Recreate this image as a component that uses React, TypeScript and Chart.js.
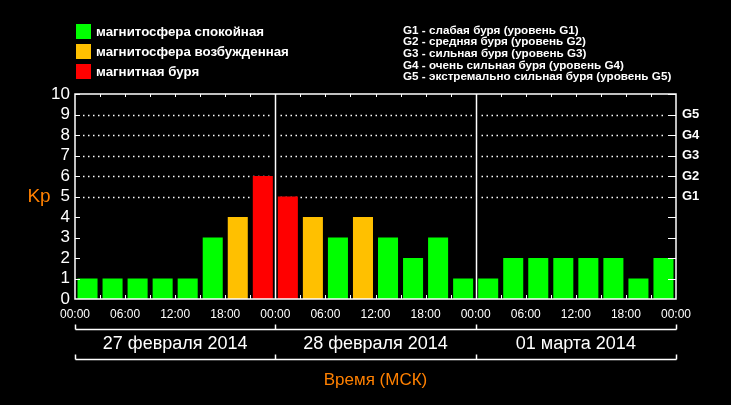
import React, { useEffect, useRef } from "react";
import { Chart, registerables } from "chart.js";

Chart.register(...registerables);

// ---- data ----
const intervals = [
  "27.02 00-03", "27.02 03-06", "27.02 06-09", "27.02 09-12", "27.02 12-15", "27.02 15-18", "27.02 18-21", "27.02 21-24",
  "28.02 00-03", "28.02 03-06", "28.02 06-09", "28.02 09-12", "28.02 12-15", "28.02 15-18", "28.02 18-21", "28.02 21-24",
  "01.03 00-03", "01.03 03-06", "01.03 06-09", "01.03 09-12", "01.03 12-15", "01.03 15-18", "01.03 18-21", "01.03 21-24",
];
const kpValues = [1, 1, 1, 1, 1, 3, 4, 6, 5, 4, 3, 4, 3, 2, 3, 1, 1, 2, 2, 2, 2, 2, 1, 2];
const timeTickLabels = [
  "00:00", "06:00", "12:00", "18:00", "00:00", "06:00", "12:00", "18:00",
  "00:00", "06:00", "12:00", "18:00", "00:00",
];
const dayLabels = ["27 февраля 2014", "28 февраля 2014", "01 марта 2014"];
const stormLevelLabels = ["G1", "G2", "G3", "G4", "G5"];
const legendLabels = ["магнитосфера спокойная", "магнитосфера возбужденная", "магнитная буря"];
const stormLegendLines = [
  "G1 - слабая буря (уровень G1)",
  "G2 - средняя буря (уровень G2)",
  "G3 - сильная буря (уровень G3)",
  "G4 - очень сильная буря (уровень G4)",
  "G5 - экстремально сильная буря (уровень G5)",
];
const yAxisTitle = "Kp";
const xAxisTitle = "Время (МСК)";

// ---- styles ----
const GREEN = "#00ff00";
const ORANGE = "#ffc000";
const RED = "#ff0000";
const TITLE_ORANGE = "#ff8000";
const WHITE = "#ffffff";
const legendColors = [GREEN, ORANGE, RED];

const barColor = (v: number) => (v >= 5 ? RED : v >= 4 ? ORANGE : GREEN);

const decorPlugin = {
  id: "decor",
  beforeDatasetsDraw(chart: any) {
    const { ctx, chartArea } = chart;
    const { left, right, top, bottom } = chartArea;
    const y = chart.scales.y;
    const xt = chart.scales.xt;
    const dayX = [8, 16].map((v) => Math.round(xt.getPixelForValue(v)) + 0.5);
    ctx.save();
    ctx.strokeStyle = WHITE;
    ctx.lineWidth = 1.5;
    ctx.setLineDash([1.5, 3.5]);
    for (let lv = 5; lv <= 9; lv++) {
      const py = Math.round(y.getPixelForValue(lv)) + 0.5;
      const segs = [
        [left + 8, dayX[0] - 4],
        [dayX[0] + 5, dayX[1] - 4],
        [dayX[1] + 5, right - 10],
      ];
      for (const [a, b] of segs) {
        ctx.beginPath();
        ctx.moveTo(a, py);
        ctx.lineTo(b, py);
        ctx.stroke();
      }
    }
    ctx.setLineDash([]);
    ctx.lineWidth = 1.5;
    for (const dx of dayX) {
      ctx.beginPath();
      ctx.moveTo(dx, top);
      ctx.lineTo(dx, bottom);
      ctx.stroke();
    }
    ctx.restore();
  },
  afterDraw(chart: any) {
    const { ctx, chartArea } = chart;
    const { left, right, top, bottom } = chartArea;
    const y = chart.scales.y;
    const xt = chart.scales.xt;
    const xc = chart.scales.x;
    ctx.save();
    ctx.strokeStyle = WHITE;
    ctx.lineWidth = 1.5;
    // frame
    ctx.strokeRect(left, top, right - left, bottom - top);
    // y ticks inward
    ctx.lineWidth = 1;
    for (let lv = 1; lv <= 10; lv++) {
      const py = Math.round(y.getPixelForValue(lv)) + 0.5;
      ctx.beginPath();
      ctx.moveTo(left, py);
      ctx.lineTo(left + 5, py);
      ctx.moveTo(right, py);
      ctx.lineTo(right - 8, py);
      ctx.stroke();
    }
    // top and bottom ticks at bar boundaries
    for (let i = 1; i < intervals.length; i++) {
      const px = Math.round((xc.getPixelForValue(i - 1) + xc.getPixelForValue(i)) / 2) + 0.5;
      ctx.beginPath();
      ctx.moveTo(px, top);
      ctx.lineTo(px, top + 3);
      ctx.moveTo(px, bottom);
      ctx.lineTo(px, bottom - 4);
      ctx.stroke();
    }
    // brackets
    const bx = [0, 8, 16, 24].map((v) => Math.round(xt.getPixelForValue(v)) + 0.5);
    ctx.lineWidth = 1.5;
    for (const by of [329.5, 359.5]) {
      ctx.beginPath();
      ctx.moveTo(bx[0], by);
      ctx.lineTo(bx[3], by);
      ctx.stroke();
      for (const px of bx) {
        ctx.beginPath();
        ctx.moveTo(px, by);
        ctx.lineTo(px, by - 5);
        ctx.stroke();
      }
    }
    // day labels
    ctx.fillStyle = WHITE;
    ctx.font = '18px "Liberation Sans", Arial, sans-serif';
    ctx.textAlign = "center";
    ctx.textBaseline = "middle";
    dayLabels.forEach((d, i) => {
      ctx.fillText(d, xt.getPixelForValue(4 + i * 8), 344);
    });
    // axis titles
    ctx.fillStyle = TITLE_ORANGE;
    ctx.font = '17px "Liberation Sans", Arial, sans-serif';
    ctx.fillText(xAxisTitle, (left + right) / 2, 380);
    ctx.font = '19px "Liberation Sans", Arial, sans-serif';
    ctx.fillText(yAxisTitle, 39, y.getPixelForValue(5));
    // legend
    ctx.textAlign = "left";
    ctx.font = 'bold 13.3px "Liberation Sans", Arial, sans-serif';
    legendLabels.forEach((t, i) => {
      ctx.fillStyle = legendColors[i];
      ctx.fillRect(76, 24 + i * 20, 15, 15);
      ctx.fillStyle = WHITE;
      ctx.fillText(t, 96, 32 + i * 20);
    });
    ctx.font = 'bold 11.7px "Liberation Sans", Arial, sans-serif';
    stormLegendLines.forEach((t, i) => {
      ctx.fillText(t, 403, 30.5 + i * 11.6);
    });
    ctx.restore();
  },
};

export default function App() {
  const canvasRef = useRef<HTMLCanvasElement | null>(null);

  useEffect(() => {
    if (!canvasRef.current) return;
    const chart = new Chart(canvasRef.current, {
      type: "bar",
      data: {
        labels: intervals,
        datasets: [
          {
            data: kpValues,
            backgroundColor: kpValues.map(barColor),
            borderWidth: 0,
            barPercentage: 0.8,
            categoryPercentage: 1.0,
            xAxisID: "x",
            yAxisID: "y",
          },
        ],
      },
      options: {
        responsive: false,
        animation: false,
        layout: { padding: { top: 94, left: 0, right: 0, bottom: 76 } },
        plugins: {
          legend: { display: false },
          tooltip: { enabled: false },
        },
        scales: {
          x: {
            type: "category",
            display: false,
            offset: true,
          },
          xt: {
            type: "linear",
            position: "bottom",
            offset: false,
            min: 0,
            max: 24,
            grid: { display: false, offset: false, drawTicks: false },
            border: { display: false },
            afterBuildTicks: (scale: any) => {
              scale.ticks = timeTickLabels.map((_, i) => ({ value: i * 2 }));
            },
            ticks: {
              autoSkip: false,
              maxRotation: 0,
              padding: 8,
              color: WHITE,
              font: { family: '"Liberation Sans", Arial, sans-serif', size: 12 },
              callback: (_v: any, i: number) => timeTickLabels[i],
            },
            afterFit: (scale: any) => {
              scale.height = 30;
            },
          },
          y: {
            type: "linear",
            position: "left",
            min: 0,
            max: 10,
            grid: { display: false, drawTicks: false },
            border: { display: false },
            ticks: {
              stepSize: 1,
              autoSkip: false,
              padding: 5,
              color: WHITE,
              font: { family: '"Liberation Sans", Arial, sans-serif', size: 17 },
            },
            afterFit: (scale: any) => {
              scale.width = 75;
            },
          },
          y2: {
            type: "linear",
            position: "right",
            min: 0,
            max: 10,
            grid: { display: false, drawTicks: false },
            border: { display: false },
            ticks: {
              stepSize: 1,
              autoSkip: false,
              padding: 6,
              color: WHITE,
              font: { family: '"Liberation Sans", Arial, sans-serif', size: 13, weight: "bold" },
              callback: (v: any) => {
                const n = Number(v);
                return n >= 5 && n <= 9 ? stormLevelLabels[n - 5] : "";
              },
            },
            afterFit: (scale: any) => {
              scale.width = 55;
            },
          },
        },
      },
      plugins: [decorPlugin],
    } as any);
    return () => chart.destroy();
  }, []);

  return (
    <div style={{ position: "absolute", left: 0, top: 0, width: 731, height: 405, background: "#000" }}>
      <canvas ref={canvasRef} width={731} height={405} style={{ display: "block" }} />
    </div>
  );
}
